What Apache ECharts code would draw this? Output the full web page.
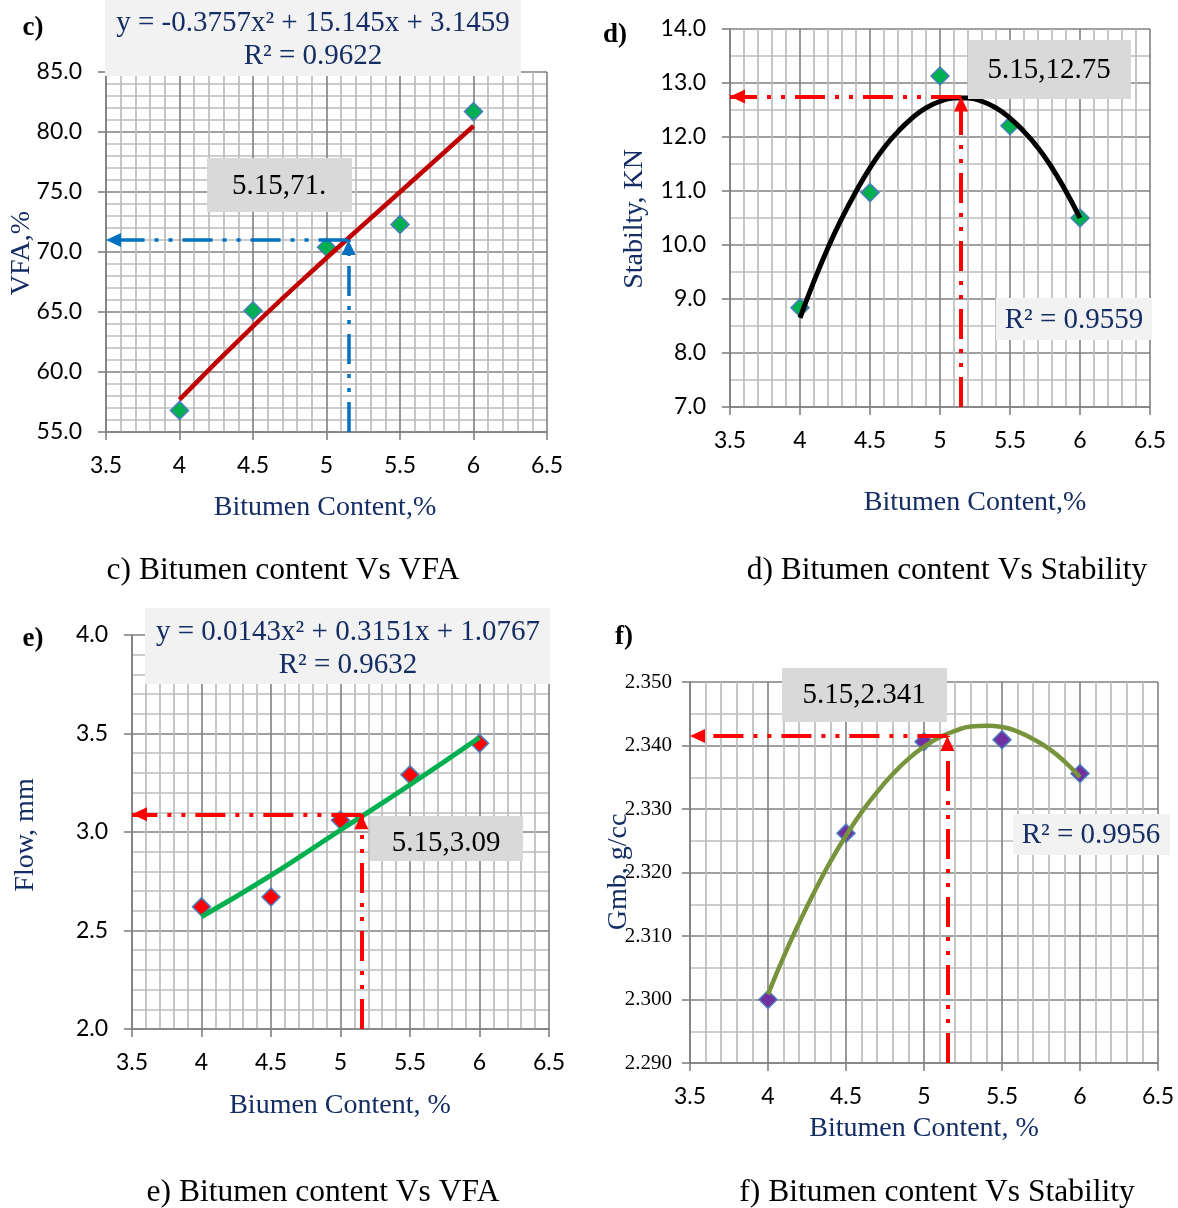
<!DOCTYPE html>
<html>
<head>
<meta charset="utf-8">
<script src="https://cdn.jsdelivr.net/npm/echarts@6/dist/echarts.min.js"></script>
<style>
html,body{margin:0;padding:0;background:#fff;}
#chart{width:1178px;height:1208px;}
</style>
</head>
<body>
<div id="chart"></div>
<script>
// ---------- data ----------
const bitumen = [4, 4.5, 5, 5.5, 6];
const vfa = [56.8, 65.1, 70.4, 72.3, 81.7];
const stability = [8.84, 10.97, 13.13, 12.21, 10.5];
const flow = [2.62, 2.67, 3.06, 3.29, 3.45];
const gmb = [2.3000, 2.3262, 2.3406, 2.3409, 2.3356];

// fitted trend lines
const trendX5 = [4, 4.5, 5, 5.5, 6];
const vfaTrend = [57.7, 63.8, 69.5, 75.0, 80.5];
const flowTrend = [2.57, 2.78, 3.01, 3.24, 3.48];
const trendX21 = [4, 4.1, 4.2, 4.3, 4.4, 4.5, 4.6, 4.7, 4.8, 4.9, 5, 5.1, 5.2, 5.3, 5.4, 5.5, 5.6, 5.7, 5.8, 5.9, 6];
const stabilityTrend = [8.65, 9.33, 9.95, 10.50, 10.99, 11.43, 11.80, 12.10, 12.35, 12.54, 12.66,
  12.72, 12.72, 12.66, 12.54, 12.35, 12.10, 11.80, 11.43, 10.99, 10.5];
const gmbTrend = [2.3008, 2.3067, 2.3121, 2.3171, 2.3217, 2.3258, 2.3295, 2.3327, 2.3355, 2.3379, 2.3398,
  2.3413, 2.3423, 2.3430, 2.3431, 2.3429, 2.3422, 2.3410, 2.3395, 2.3375, 2.3350];

// optimum points (bitumen %, value)
const optC = [5.15, 71];
const optD = [5.15, 12.75];
const optE = [5.15, 3.09];
const optF = [5.15, 2.3415];

// axis ranges [min, max, interval, minorSplit]
const xRange = [3.5, 6.5, 0.5, 5];
const yRangeC = [55, 85, 5, 5];
const yRangeD = [7, 14, 1, 2];
const yRangeE = [2, 4, 0.5, 5];
const yRangeF = [2.29, 2.35, 0.01, 2];

// texts
const eqC = ['y = -0.3757x² + 15.145x + 3.1459', 'R² = 0.9622'];
const eqD = 'R² = 0.9559';
const eqE = ['y = 0.0143x² + 0.3151x + 1.0767', 'R² = 0.9632'];
const eqF = 'R² = 0.9956';
const optLabels = ['5.15,71.', '5.15,12.75', '5.15,3.09', '5.15,2.341'];
const xTitles = ['Bitumen Content,%', 'Bitumen Content,%', 'Biumen Content, %', 'Bitumen Content, %'];
const yTitles = ['VFA,%', 'Stabilty, KN', 'Flow, mm', 'Gmb, g/cc'];
const captions = ['c) Bitumen content Vs VFA', 'd) Bitumen content Vs Stability', 'e) Bitumen content Vs VFA', 'f) Bitumen content Vs Stability'];
const panelTags = ['c)', 'd)', 'e)', 'f)'];

// ---------- chart ----------
const pairs = (xs, ys) => xs.map((x, i) => [x, ys[i]]);
const NAVY = '#142d64';
const SERIF = '"Liberation Serif", "Times New Roman", serif';
const SANS = 'Lato, "Liberation Sans", sans-serif';
const MAJOR = '#808080';
const MINOR = '#bdbdbd';

function xAxisFor(gi) {
  return {
    type: 'value', gridIndex: gi, min: xRange[0], max: xRange[1], interval: xRange[2],
    axisLine: {show: true, onZero: false, lineStyle: {color: MAJOR, width: 1.6}},
    axisTick: {show: true, length: 8, lineStyle: {color: MAJOR, width: 1.6}},
    axisLabel: {margin: 22, color: '#000', fontFamily: SANS, fontSize: 23,
      formatter: v => String(+(+v).toFixed(1))},
    splitLine: {show: true, lineStyle: {color: MAJOR, width: 1.6}},
    minorTick: {show: false, splitNumber: xRange[3]},
    minorSplitLine: {show: true, lineStyle: {color: MINOR, width: 1.7}}
  };
}
function yAxisFor(gi, r, dec, font, size, margin) {
  return {
    type: 'value', gridIndex: gi, min: r[0], max: r[1], interval: r[2],
    axisLine: {show: true, onZero: false, lineStyle: {color: MAJOR, width: 1.6}},
    axisTick: {show: true, length: 8, lineStyle: {color: MAJOR, width: 1.6}},
    axisLabel: {margin: margin, color: '#000', fontFamily: font, fontSize: size,
      formatter: v => (+v).toFixed(dec)},
    splitLine: {show: true, lineStyle: {color: MAJOR, width: 1.6}},
    minorTick: {show: false, splitNumber: r[3]},
    minorSplitLine: {show: true, lineStyle: {color: MINOR, width: 1.7}}
  };
}

function scatterSeries(gi, ys, color) {
  return {type: 'scatter', xAxisIndex: gi, yAxisIndex: gi, data: pairs(bitumen, ys),
    symbol: 'diamond', symbolSize: 18, silent: true, z: 3,
    itemStyle: {color: color, borderColor: '#4a7ebb', borderWidth: 1.5, opacity: 1}};
}
function trendSeries(gi, xs, ys, color, width) {
  return {type: 'line', xAxisIndex: gi, yAxisIndex: gi, data: pairs(xs, ys),
    showSymbol: false, smooth: true, silent: true, z: 4,
    lineStyle: {color: color, width: width, cap: 'butt'}};
}
function arrowLineSeries(gi, opt, yMin, color, width) {
  return {type: 'line', xAxisIndex: gi, yAxisIndex: gi, data: [], z: 5, silent: true,
    markLine: {silent: true, symbol: ['none', 'none'], animation: false,
      label: {show: false},
      lineStyle: {color: color, width: width, type: [30, 10, 4, 10, 4, 10]},
      emphasis: {disabled: true},
      data: [
        [{coord: [opt[0], opt[1]]}, {coord: [xRange[0], opt[1]]}],
        [{coord: [opt[0], yMin]}, {coord: [opt[0], opt[1]]}]
      ]}};
}
function arrowHeadSeries(gi, opt, color) {
  // triangle tips sit on the points (shifted back by half their length)
  return {type: 'scatter', xAxisIndex: gi, yAxisIndex: gi, z: 6, silent: true,
    symbol: 'triangle', symbolSize: [14, 15],
    itemStyle: {color: color, opacity: 1},
    data: [
      {value: [xRange[0], opt[1]], symbolRotate: 90, symbolOffset: [7.5, 0]},
      {value: [opt[0], opt[1]], symbolRotate: 0, symbolOffset: [0, 7.5]}
    ]};
}

function rect(x, y, w, h, fill) {
  return {type: 'rect', shape: {x: x, y: y, width: w, height: h}, style: {fill: fill}, z: 100, silent: true};
}
function text(x, y, str, o) {
  o = o || {};
  return {type: 'text', x: x, y: y, rotation: o.rot || 0, z: 101, silent: true,
    style: {text: str, fill: o.color || '#000', fontFamily: o.font || SERIF,
      fontSize: o.size || 29, fontWeight: o.weight || 'normal',
      align: 'center', verticalAlign: 'middle'}};
}

const ROT = Math.PI / 2;
const graphics = [
  // panel c
  rect(105, 0, 416, 76, '#f2f2f2'),
  text(313, 23, eqC[0], {color: NAVY}),
  text(313, 56, eqC[1], {color: NAVY}),
  rect(207, 158, 145, 54, '#d9d9d9'),
  text(279, 186, optLabels[0]),
  text(33, 28, panelTags[0], {size: 27, weight: 'bold'}),
  text(22, 253, yTitles[0], {color: NAVY, size: 28, rot: ROT}),
  text(325, 508, xTitles[0], {color: NAVY, size: 28}),
  text(283, 571, captions[0], {size: 31.5}),
  // panel d
  rect(968, 40, 163, 59, '#d9d9d9'),
  text(1049, 70, optLabels[1]),
  rect(996, 298, 156, 42, '#f2f2f2'),
  text(1074, 320, eqD, {color: NAVY}),
  text(615, 35, panelTags[1], {size: 27, weight: 'bold'}),
  text(635, 219, yTitles[1], {color: NAVY, size: 28, rot: ROT}),
  text(975, 503, xTitles[1], {color: NAVY, size: 28}),
  text(947, 571, captions[1], {size: 31.5}),
  // panel e
  rect(145, 608, 405, 76, '#f2f2f2'),
  text(348, 632, eqE[0], {color: NAVY}),
  text(348, 665, eqE[1], {color: NAVY}),
  rect(370, 816, 153, 45, '#d9d9d9'),
  text(446, 843, optLabels[2]),
  text(33, 639, panelTags[2], {size: 27, weight: 'bold'}),
  text(26, 835, yTitles[2], {color: NAVY, size: 28, rot: ROT}),
  text(340, 1106, xTitles[2], {color: NAVY, size: 28}),
  text(323, 1193, captions[2], {size: 31.5}),
  // panel f
  rect(782, 668, 165, 54, '#d9d9d9'),
  text(864, 695, optLabels[3]),
  rect(1013, 814, 157, 41, '#f2f2f2'),
  text(1091, 835, eqF, {color: NAVY}),
  text(624, 637, panelTags[3], {size: 27, weight: 'bold'}),
  text(619, 872, yTitles[3], {color: NAVY, size: 28, rot: ROT}),
  text(924, 1129, xTitles[3], {color: NAVY, size: 28}),
  text(937, 1193, captions[3], {size: 31.5})
];

const option = {
  animation: false,
  backgroundColor: '#fff',
  grid: [
    {left: 106, top: 72, width: 441, height: 360},
    {left: 730, top: 29, width: 420, height: 378},
    {left: 132, top: 635, width: 417, height: 394},
    {left: 690, top: 682, width: 468, height: 381}
  ],
  xAxis: [xAxisFor(0), xAxisFor(1), xAxisFor(2), xAxisFor(3)],
  yAxis: [
    yAxisFor(0, yRangeC, 1, SANS, 23, 24),
    yAxisFor(1, yRangeD, 1, SANS, 23, 24),
    yAxisFor(2, yRangeE, 1, SANS, 23, 24),
    yAxisFor(3, yRangeF, 3, SERIF, 21, 18)
  ],
  series: [
    scatterSeries(0, vfa, '#00b050'),
    trendSeries(0, trendX5, vfaTrend, '#c00000', 4.5),
    arrowLineSeries(0, optC, yRangeC[0], '#0070c0', 3.5),
    arrowHeadSeries(0, optC, '#0070c0'),

    scatterSeries(1, stability, '#00b050'),
    trendSeries(1, trendX21, stabilityTrend, '#000000', 5),
    arrowLineSeries(1, optD, yRangeD[0], '#ff0000', 4),
    arrowHeadSeries(1, optD, '#ff0000'),

    scatterSeries(2, flow, '#ff0000'),
    trendSeries(2, trendX5, flowTrend, '#00b050', 5),
    arrowLineSeries(2, optE, yRangeE[0], '#ff0000', 4),
    arrowHeadSeries(2, optE, '#ff0000'),

    scatterSeries(3, gmb, '#7030a0'),
    trendSeries(3, trendX21, gmbTrend, '#77933c', 4.5),
    arrowLineSeries(3, optF, yRangeF[0], '#ff0000', 4),
    arrowHeadSeries(3, optF, '#ff0000')
  ],
  graphic: graphics
};

const chart = echarts.init(document.getElementById('chart'), null, {renderer: 'canvas'});
chart.setOption(option);
</script>
</body>
</html>
